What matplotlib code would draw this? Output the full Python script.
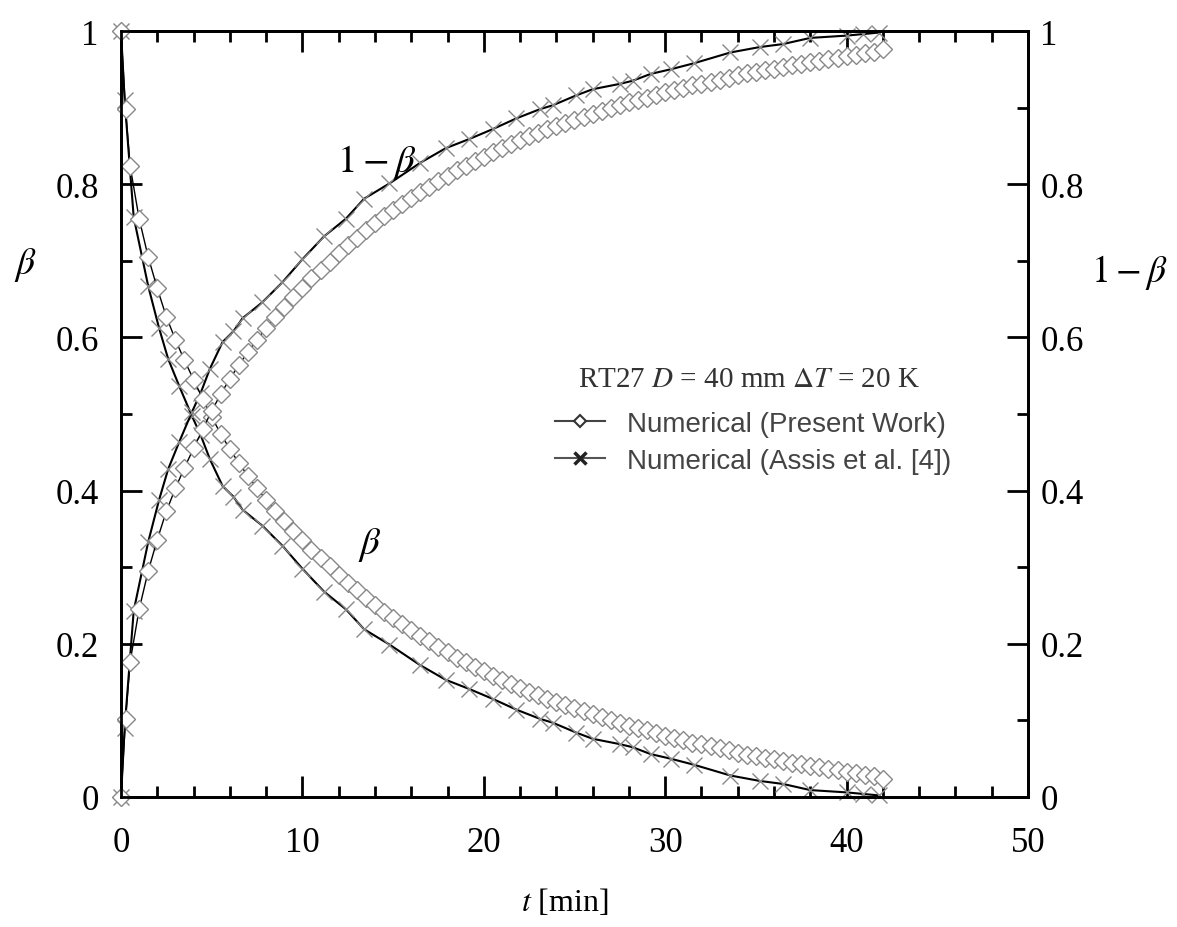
import matplotlib
matplotlib.use("Agg")
import matplotlib.pyplot as plt
from matplotlib.lines import Line2D
from matplotlib.ticker import MultipleLocator
import numpy as np

plt.rcParams['font.family'] = ['Liberation Serif', 'DejaVu Serif']
plt.rcParams['mathtext.fontset'] = 'stix'

# Present work (diamonds), beta vs t [min]
t_present = [0, 0.25, 0.5, 1.0, 1.5, 2.0, 2.5, 3.0, 3.5, 4.0, 4.5, 5.0, 5.5, 6.0, 6.5,
             7.0, 7.5, 8.0, 8.5, 9.0, 9.5, 10.0, 10.5, 11.0, 11.5, 12.0, 12.5, 13.0,
             13.5, 14.0, 14.5, 15.0, 15.5, 16.0, 16.5, 17.0, 17.5, 18.0, 18.5, 19.0,
             19.5, 20.0, 20.5, 21.0, 21.5, 22.0, 22.5, 23.0, 23.5, 24.0, 24.5, 25.0,
             25.5, 26.0, 26.5, 27.0, 27.5, 28.0, 28.5, 29.0, 29.5, 30.0, 30.5, 31.0,
             31.5, 32.0, 32.5, 33.0, 33.5, 34.0, 34.5, 35.0, 35.5, 36.0, 36.5, 37.0,
             37.5, 38.0, 38.5, 39.0, 39.5, 40.0, 40.5, 41.0, 41.5, 42.0]
beta_present = [1.000, 0.898, 0.824, 0.755, 0.705, 0.664, 0.627, 0.597, 0.570, 0.545,
                0.520, 0.496, 0.474, 0.454, 0.436, 0.419, 0.403, 0.388, 0.374, 0.360,
                0.347, 0.335, 0.323, 0.312, 0.301, 0.290, 0.280, 0.270, 0.260, 0.251,
                0.242, 0.234, 0.226, 0.218, 0.210, 0.203, 0.196, 0.189, 0.182, 0.176,
                0.170, 0.164, 0.158, 0.153, 0.147, 0.142, 0.137, 0.133, 0.128, 0.124,
                0.120, 0.116, 0.112, 0.108, 0.104, 0.100, 0.097, 0.093, 0.090, 0.087,
                0.083, 0.080, 0.077, 0.074, 0.071, 0.069, 0.066, 0.064, 0.061, 0.058,
                0.055, 0.053, 0.051, 0.049, 0.047, 0.045, 0.043, 0.041, 0.039, 0.037,
                0.035, 0.033, 0.031, 0.029, 0.027, 0.024]

# Assis et al. [4] (crosses)
t_assis = [0, 0.2, 0.7, 1.5, 2.1, 2.6, 3.2, 3.9, 4.4, 4.9, 5.6, 6.2, 6.7, 7.8, 8.9,
           10.0, 11.2, 12.4, 13.4, 14.8, 16.5, 17.9, 19.2, 20.5, 21.8, 23.1, 23.8,
           25.1, 26.0, 27.5, 28.2, 29.2, 30.3, 31.6, 33.6, 35.2, 36.5, 38.0, 40.0,
           40.9, 41.8]
beta_assis = [1.0, 0.91, 0.757, 0.667, 0.612, 0.572, 0.537, 0.498, 0.472, 0.441,
              0.406, 0.392, 0.375, 0.354, 0.328, 0.298, 0.268, 0.245, 0.219, 0.199,
              0.172, 0.153, 0.141, 0.128, 0.114, 0.102, 0.097, 0.084, 0.076, 0.069,
              0.065, 0.056, 0.050, 0.042, 0.028, 0.021, 0.017, 0.009, 0.006, 0.004,
              0.002]

y_ticks = [0, 0.2, 0.4, 0.6, 0.8, 1.0]
y_labels = ['0', '0.2', '0.4', '0.6', '0.8', '1']

tp = np.array(t_present)
bp = np.array(beta_present)
ta = np.array(t_assis)
ba = np.array(beta_assis)

fig = plt.figure(figsize=(11.77, 9.28), dpi=100)
ax = fig.add_axes([0.1028, 0.1401, 0.7706, 0.8254])

xstyle = dict(color='black', lw=1.5, marker='x', ms=12, mec='#888888', mew=1.0, clip_on=False)
dstyle = dict(color='black', lw=1.0, marker='D', ms=9.5, mfc='white', mec='#888888', mew=1.0,
              clip_on=False)

for y in (ba, 1 - ba):
    ax.plot(ta, y, zorder=2, **xstyle)
for y in (bp, 1 - bp):
    ax.plot(tp, y, zorder=3, **dstyle)

ax.set_xlim(0, 50)
ax.set_ylim(0, 1)
ax.xaxis.set_major_locator(MultipleLocator(10))
ax.xaxis.set_minor_locator(MultipleLocator(2))
ax.set_yticks(y_ticks)
ax.set_yticklabels(y_labels)
ax.yaxis.set_minor_locator(MultipleLocator(0.1))

for s in ax.spines.values():
    s.set_linewidth(2)
ax.tick_params(which='both', direction='in', top=True, width=2, labelsize=25)
ax.tick_params(which='major', length=15)
ax.tick_params(which='minor', length=8)
ax.tick_params(axis='x', pad=21)
ax.tick_params(axis='y', pad=16, right=False)

ax2 = ax.twinx()
ax2.set_ylim(0, 1)
ax2.set_yticks(y_ticks)
ax2.set_yticklabels(y_labels)
ax2.yaxis.set_minor_locator(MultipleLocator(0.1))
ax2.tick_params(which='both', direction='in', width=2, labelsize=25, pad=9)
ax2.tick_params(which='major', length=15)
ax2.tick_params(which='minor', length=8)
for s in ax2.spines.values():
    s.set_linewidth(2)

# axis labels
fig.text(25 / 1177, 1 - 265 / 928, r'$\beta$', fontsize=27, ha='center', va='center')
fig.text(1129 / 1177, 1 - 272 / 928, r'$1-\beta$', fontsize=27, ha='center', va='center')
fig.text(565 / 1177, 1 - 903 / 928, r'$t$ [min]', fontsize=23, ha='center', va='center')

# curve labels
ax.text(14.1, 0.83, r'$1-\beta$', fontsize=28, ha='center', va='center')
ax.text(13.7, 0.33, r'$\beta$', fontsize=28, ha='center', va='center')

ax.text(0.6924, 0.5457, r'RT27 $D$ = 40 mm $\Delta T$ = 20 K', transform=ax.transAxes,
        fontsize=21, color='#333333', ha='center', va='center')

handles = [
    Line2D([], [], color='#444444', lw=1.5, marker='D', ms=6, mfc='white', mec='#333333', mew=1.5),
    Line2D([], [], color='#555555', lw=1.5, marker='x', ms=9, mec='#222222', mew=2.5),
]
leg = ax.legend(handles, ['Numerical (Present Work)', 'Numerical (Assis et al. [4])'],
                loc='center left', bbox_to_anchor=(0.4785, 0.4628), frameon=False,
                prop={'family': 'Liberation Sans', 'size': 20},
                handlelength=1.8, handletextpad=0.8, labelspacing=0.4, borderpad=0,
                borderaxespad=0)
for txt in leg.get_texts():
    txt.set_color('#444444')

fig.savefig('out.png', dpi=100)
